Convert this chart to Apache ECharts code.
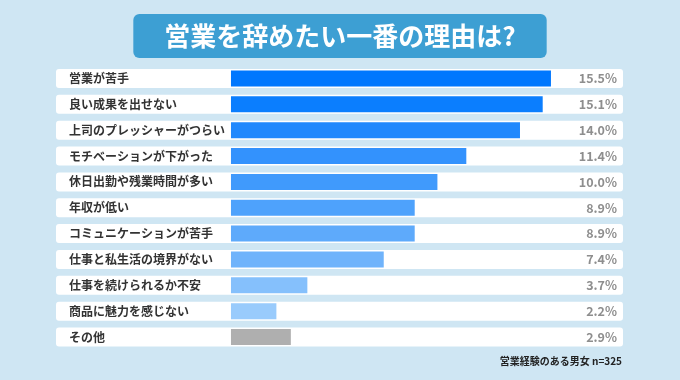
<!DOCTYPE html>
<html>
<head>
<meta charset="utf-8">
<script src="https://cdn.jsdelivr.net/npm/echarts@6/dist/echarts.min.js"></script>
<style>
html,body{margin:0;padding:0;background:#cfe6f3;}
#chart{width:680px;height:380px;}
</style>
</head>
<body>
<div id="chart"></div>
<script>
const titleText = '営業を辞めたい一番の理由は?';
const categories = [
  '営業が苦手',
  '良い成果を出せない',
  '上司のプレッシャーがつらい',
  'モチベーションが下がった',
  '休日出勤や残業時間が多い',
  '年収が低い',
  'コミュニケーションが苦手',
  '仕事と私生活の境界がない',
  '仕事を続けられるか不安',
  '商品に魅力を感じない',
  'その他'
];
const percents = [15.5, 15.1, 14.0, 11.4, 10.0, 8.9, 8.9, 7.4, 3.7, 2.2, 2.9];
const barColors = ['#0077fe', '#0b7efe', '#2088fd', '#3392fd', '#409afc', '#4ea2fc', '#5eaafb', '#6fb3fb', '#85c0fc', '#99cbfc', '#afafaf'];
const footnote = '営業経験のある男女 n=325';

const FONT = '"Noto Sans CJK JP", "Noto Sans", sans-serif';
const chart = echarts.init(document.getElementById('chart'));
const xAxisCfg = {
  type: 'value', min: -8.476, max: 18.99,
  show: false
};
chart.setOption({
  backgroundColor: '#cfe6f3',
  animation: false,
  title: {
    text: titleText,
    left: 'center',
    top: 14,
    padding: [9, 31, 9, 31],
    backgroundColor: '#3d9fd3',
    borderRadius: 6,
    textStyle: {
      color: '#ffffff', fontSize: 26, fontWeight: 'bold', fontFamily: FONT, lineHeight: 26
    }
  },
  grid: { left: 56, right: 57, top: 65.5, height: 284.5 },
  xAxis: xAxisCfg,
  yAxis: [
    {
      type: 'category', data: categories, inverse: true, position: 'left',
      axisLine: { show: false, onZero: false }, axisTick: { show: false }, splitLine: { show: false },
      axisLabel: {
        inside: true, margin: 13, align: 'left',
        color: '#333333', fontSize: 12, fontWeight: 'bold', fontFamily: FONT
      },
      z: 5
    },
    {
      type: 'category', data: percents.map(v => v.toFixed(1) + '%'), inverse: true, position: 'right',
      axisLine: { show: false, onZero: false }, axisTick: { show: false }, splitLine: { show: false },
      axisLabel: {
        inside: true, margin: 6, align: 'right',
        color: '#8e8e8e', fontSize: 12.5, fontWeight: 'bold', fontFamily: FONT
      },
      z: 5
    }
  ],
  series: [
    {
      name: 'row', type: 'bar', yAxisIndex: 1, data: percents, barWidth: 19,
      itemStyle: { color: 'rgba(0,0,0,0)' },
      showBackground: true,
      backgroundStyle: { color: '#ffffff', borderRadius: 3 },
      silent: true, z: 1
    },
    {
      name: 'value', type: 'bar', yAxisIndex: 0, barWidth: 16,
      data: percents.map((v, i) => ({ value: v, itemStyle: { color: barColors[i] } })),
      z: 3
    }
  ],
  graphic: [
    {
      type: 'text', right: 58, top: 356,
      style: { text: footnote, fill: '#222222', font: 'bold 10px ' + FONT, textAlign: 'right' }
    }
  ]
});
</script>
</body>
</html>
